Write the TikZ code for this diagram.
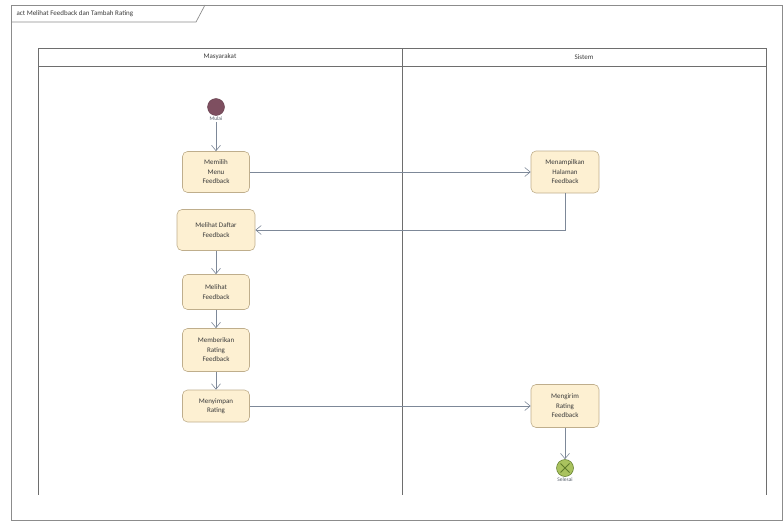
\documentclass[tikz,border=0pt]{standalone}
\usepackage{fontspec}
\setmainfont{Carlito}
\usetikzlibrary{arrows.meta,positioning,calc}
\definecolor{frameln}{HTML}{8C8C8C}
\definecolor{laneln}{HTML}{6E6E6E}
\definecolor{actfill}{HTML}{FDF0D2}
\definecolor{actline}{HTML}{BFAE8C}
\definecolor{flowc}{HTML}{7D8898}
\definecolor{startc}{HTML}{7E4F60}
\definecolor{endc}{HTML}{A9C25E}
\definecolor{endx}{HTML}{5E7A2A}
\definecolor{txt}{HTML}{3A3A3A}

\begin{document}
\begin{tikzpicture}[
    x=1pt, y=-1pt,
    every node/.style={font=\fontsize{7}{9.5}\selectfont, text=txt},
    frame/.style={frameln, line width=0.7pt},
    lane/.style={laneln, line width=0.8pt},
    action/.style={rectangle, rounded corners=5pt, draw=actline, fill=actfill,
                   line width=0.6pt, align=center, inner sep=2pt,
                   minimum width=67pt},
    flow/.style={flowc, line width=0.6pt, -{Straight Barb[length=5.5pt,width=9pt]}},
    startnode/.style={circle, fill=startc, draw=startc!80!black, minimum size=17pt, inner sep=0pt},
    endnode/.style={circle, fill=endc, draw=endx, line width=0.5pt, minimum size=17pt, inner sep=0pt},
    lbl/.style={font=\fontsize{5.5}{7}\selectfont, text=flowc!70!black, inner sep=1pt},
]
\useasboundingbox (0,0) rectangle (784,522);

% ============================================================
% Frame + title tab
% ============================================================
\draw[frame] (11,5) rectangle (782,520);
\draw[frame] (11,22) -- (196,22) -- (205,5);
\node[anchor=west] (judul) at (13,13.5) {act Melihat Feedback dan Tambah Rating};

% ============================================================
% Swimlanes
% ============================================================
\def\laneTop{48}
\def\laneHead{66}
\def\laneBot{495}
\draw[lane] (38,\laneTop) -- (766,\laneTop);
\draw[lane] (38,\laneHead) -- (766,\laneHead);
\foreach \lx in {38,402,766}
  \draw[lane] (\lx,\laneTop) -- (\lx,\laneBot);
\node (laneA) at (220,57) {Masyarakat};
\node (laneB) at (584,57) {Sistem};

% ============================================================
% Actions: Masyarakat
% ============================================================
\node[startnode] (mulai) at (216,107) {};
\node[lbl, below=0pt of mulai] (mulaiLbl) {Mulai};
\node[action, minimum height=41pt] (memilih) at (216,172) {Memilih\\Menu\\Feedback};
\node[action, minimum width=78pt, minimum height=41pt] (daftar) at (216,230) {Melihat Daftar\\Feedback};
\node[action, minimum height=35pt] (lihat) at (216,292) {Melihat\\Feedback};
\node[action, minimum height=43pt] (beri) at (216,350) {Memberikan\\Rating\\Feedback};
\node[action, minimum height=32pt] (simpan) at (216,406) {Menyimpan\\Rating};

% ============================================================
% Actions: Sistem
% ============================================================
\node[action, minimum width=68pt, minimum height=42pt] (tampil) at (565,172) {Menampilkan\\Halaman\\Feedback};
\node[action, minimum width=68pt, minimum height=43pt] (kirim) at (565,406) {Mengirim\\Rating\\Feedback};
\node[endnode] (selesai) at (565,468) {};
\draw[endx, line width=0.9pt] ($(selesai)+(-4.5,-4.5)$) -- ($(selesai)+(4.5,4.5)$);
\draw[endx, line width=0.9pt] ($(selesai)+(-4.5,4.5)$) -- ($(selesai)+(4.5,-4.5)$);
\node[lbl, below=0pt of selesai] (selesaiLbl) {Selesai};

% ============================================================
% Control flows
% ============================================================
\draw[flow] (mulaiLbl) -- (memilih);
\draw[flow] (memilih) -- (tampil);
\draw[flow] (tampil.south) |- (daftar.east);
\draw[flow] (daftar) -- (lihat);
\draw[flow] (lihat) -- (beri);
\draw[flow] (beri) -- (simpan);
\draw[flow] (simpan) -- (kirim);
\draw[flow] (kirim) -- (selesai);

\end{tikzpicture}
\end{document}
